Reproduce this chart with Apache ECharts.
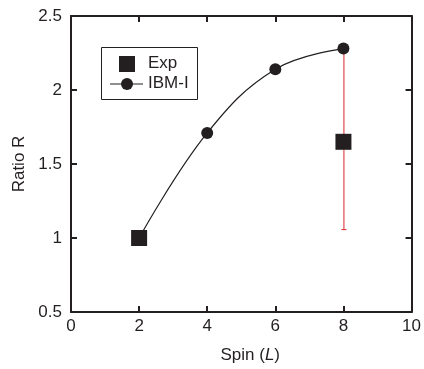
<!DOCTYPE html>
<html>
<head>
<meta charset="utf-8">
<script src="https://cdn.jsdelivr.net/npm/echarts@6/dist/echarts.min.js"></script>
<style>
html,body{margin:0;padding:0;background:#fff;}
#chart{width:424px;height:369px;}
</style>
</head>
<body>
<div id="chart"></div>
<script>
// ---- data ----
var expSpin = [2, 8];
var expRatio = [1.0, 1.65];
var expErrLow = [null, 1.06];
var expErrHigh = [null, 2.28];
var ibmSpin = [2, 4, 6, 8];
var ibmRatio = [1.0, 1.71, 2.14, 2.28];
var xTicks = [0, 2, 4, 6, 8, 10];
var yTicks = [0.5, 1, 1.5, 2, 2.5];

var ink = '#231f20';
var font = 'Liberation Sans, Arial, Helvetica, sans-serif';

var expData = expSpin.map(function (x, i) { return [x, expRatio[i]]; });
var ibmData = ibmSpin.map(function (x, i) { return [x, ibmRatio[i]]; });
var errData = [];
expSpin.forEach(function (x, i) {
  if (expErrLow[i] != null) errData.push([x, expErrLow[i], expErrHigh[i]]);
});

var chart = echarts.init(document.getElementById('chart'), null, {renderer: 'canvas'});

function xAxisCfg(pos, show) {
  return {
    type: 'value', position: pos, min: xTicks[0], max: xTicks[xTicks.length - 1], interval: 2,
    axisLine: {show: true, onZero: false, lineStyle: {color: ink, width: 2}},
    axisTick: {show: true, inside: true, length: 6, lineStyle: {color: ink, width: 2}},
    axisLabel: {show: show, margin: 6, color: ink, fontSize: 17, fontFamily: font,
      formatter: function (v) { return xTicks.indexOf(v) >= 0 ? String(v) : ''; }},
    splitLine: {show: false}
  };
}
function yAxisCfg(pos, show) {
  return {
    type: 'value', position: pos, min: yTicks[0], max: yTicks[yTicks.length - 1], interval: 0.5,
    axisLine: {show: true, onZero: false, lineStyle: {color: ink, width: 2}},
    axisTick: {show: true, inside: true, length: 6, lineStyle: {color: ink, width: 2}},
    axisLabel: {show: show, margin: 9, color: ink, fontSize: 17, fontFamily: font,
      formatter: function (v) { return String(v); }},
    splitLine: {show: false}
  };
}

var xb = xAxisCfg('bottom', true);
xb.name = '{n|Spin (}{i|L}{n|)}';
xb.nameLocation = 'middle';
xb.nameGap = 35;
xb.nameTextStyle = {padding: [0, 0, 0, 18], rich: {
  n: {fontSize: 17, fontFamily: font, color: ink},
  i: {fontSize: 17, fontFamily: font, color: ink, fontStyle: 'italic'}
}};
var xt = xAxisCfg('top', false);

var yl = yAxisCfg('left', true);
yl.name = 'Ratio R';
yl.nameLocation = 'middle';
yl.nameGap = 43;
yl.nameTextStyle = {fontSize: 17, fontFamily: font, color: ink};
var yr = yAxisCfg('right', false);

chart.setOption({
  animation: false,
  backgroundColor: '#fff',
  grid: {left: 71, right: 10, top: 16, bottom: 55},
  xAxis: [xb, xt],
  yAxis: [yl, yr],
  series: [
    {
      type: 'custom', xAxisIndex: 0, yAxisIndex: 0, z: 1,
      data: errData,
      encode: {x: 0, y: [1, 2]},
      renderItem: function (params, api) {
        var x = api.value(0), lo = api.value(1), hi = api.value(2);
        var p1 = api.coord([x, hi]);
        var p2 = api.coord([x, lo]);
        var st = {stroke: '#d7262e', lineWidth: 1};
        return {type: 'group', children: [
          {type: 'line', shape: {x1: p1[0] + 0.5, y1: p1[1], x2: p2[0] + 0.5, y2: p2[1]}, style: st},
          {type: 'line', shape: {x1: p2[0] - 2, y1: p2[1] + 0.5, x2: p2[0] + 3, y2: p2[1] + 0.5}, style: st},
          {type: 'line', shape: {x1: p1[0] - 2, y1: p1[1] + 0.5, x2: p1[0] + 3, y2: p1[1] + 0.5}, style: st}
        ]};
      }
    },
    {
      name: 'IBM-I', type: 'line', xAxisIndex: 0, yAxisIndex: 0, z: 2,
      data: ibmData, smooth: 0.4,
      symbol: 'circle', symbolSize: 12,
      lineStyle: {color: ink, width: 1.2},
      itemStyle: {color: ink, opacity: 1}
    },
    {
      name: 'Exp', type: 'scatter', xAxisIndex: 0, yAxisIndex: 0, z: 3,
      data: expData,
      symbol: 'rect', symbolSize: 16,
      itemStyle: {color: ink, opacity: 1}
    }
  ],
  graphic: [
    {type: 'rect', left: 101, top: 47, shape: {width: 96, height: 52},
      style: {fill: '#fff', stroke: ink, lineWidth: 1}, z: 10},
    {type: 'rect', left: 119, top: 56, shape: {width: 16, height: 16},
      style: {fill: ink}, z: 11},
    {type: 'text', left: 148, top: 55, style: {text: 'Exp', fill: ink, font: '17px ' + font}, z: 11},
    {type: 'line', shape: {x1: 110, y1: 84, x2: 143, y2: 84}, style: {stroke: ink, lineWidth: 1.2}, z: 11},
    {type: 'circle', shape: {cx: 127, cy: 84, r: 6}, style: {fill: ink}, z: 12},
    {type: 'text', left: 148, top: 75, style: {text: 'IBM-I', fill: ink, font: '17px ' + font}, z: 11}
  ]
});
</script>
</body>
</html>
